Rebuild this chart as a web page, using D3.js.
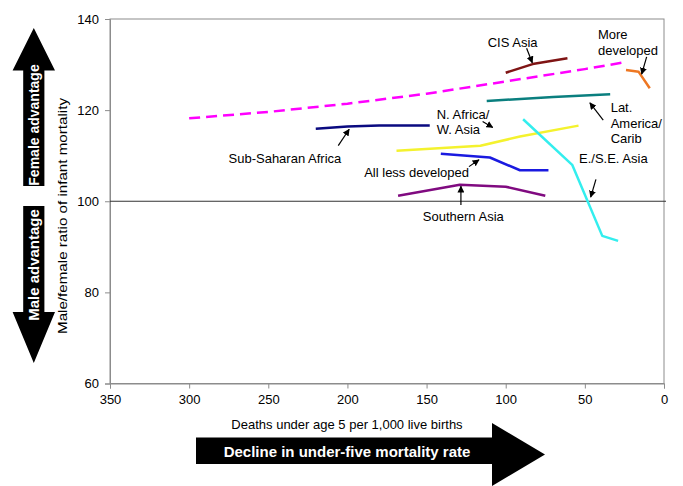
<!DOCTYPE html>
<html>
<head>
<meta charset="utf-8">
<script src="https://cdn.jsdelivr.net/npm/d3@7"></script>
<style>
  html, body { margin: 0; padding: 0; background: #fff; }
  svg { display: block; font-family: "Liberation Sans", Arial, sans-serif; }
</style>
</head>
<body>
<svg id="chart" width="683" height="486"></svg>
<script>
// ---------------- data ----------------
const xTicks = [350, 300, 250, 200, 150, 100, 50, 0];
const yTicks = [60, 80, 100, 120, 140];
const xDomain = [350, 0];
const yDomain = [60, 140];
const referenceValue = 100;

const seriesNames = ["More developed", "More developed (recent)", "CIS Asia", "Lat. America/Carib",
  "Sub-Saharan Africa", "N. Africa/W. Asia", "All less developed", "Southern Asia", "E./S.E. Asia"];

const moreDevX = [300, 250, 200, 150, 100, 50, 25];
const moreDevY = [118.2, 119.6, 121.4, 123.6, 126.3, 129.0, 130.5];
const moreDevRecentX = [24, 16, 9];
const moreDevRecentY = [128.8, 128.4, 124.8];
const cisAsiaX = [100, 83, 61];
const cisAsiaY = [128.2, 130.1, 131.4];
const latAmX = [112, 70, 34];
const latAmY = [122.0, 122.9, 123.5];
const ssAfricaX = [220, 200, 180, 148];
const ssAfricaY = [115.9, 116.4, 116.6, 116.6];
const naWaX = [169, 116, 91, 54];
const naWaY = [111.1, 112.2, 114.2, 116.6];
const lessDevX = [141, 110, 91, 73];
const lessDevY = [110.4, 109.6, 106.8, 106.8];
const sAsiaX = [168, 129, 100, 75];
const sAsiaY = [101.2, 103.6, 103.2, 101.2];
const eseAsiaX = [89, 58, 39, 29];
const eseAsiaY = [118.0, 108.0, 92.4, 91.3];

const seriesX = [moreDevX, moreDevRecentX, cisAsiaX, latAmX, ssAfricaX, naWaX, lessDevX, sAsiaX, eseAsiaX];
const seriesY = [moreDevY, moreDevRecentY, cisAsiaY, latAmY, ssAfricaY, naWaY, lessDevY, sAsiaY, eseAsiaY];
const seriesColors = ["#ff00ff", "#ee7722", "#7f1414", "#0a7f7f", "#0a0a80", "#f4f22e", "#1a1ae0", "#800a80", "#33eeee"];
const seriesDash = ["11,6", null, null, null, null, null, null, null, null];

// annotation labels (in data coordinates)
const labelLines = [["CIS Asia"], ["More", "developed"], ["Lat.", "America/", "Carib"], ["N. Africa/", "W. Asia"],
  ["E./S.E. Asia"], ["All less developed"], ["Southern Asia"], ["Sub-Saharan Africa"]];
const labelX = [95.6, 41.7, 33.7, 143.6, 53.7, 123.2, 126.8, 239.5];
const labelY = [134.8, 136.5, 120.6, 119.1, 109.3, 106.4, 96.6, 109.4];
const labelAnchor = ["middle", "start", "start", "start", "start", "end", "middle", "middle"];
const arrowX1 = [86.8, 10.96, 38.4, 114.6, 43.0, 123.2, 128.3, 205.8];
const arrowY1 = [133.6, 131.7, 117.8, 117.5, 104.8, 107.6, 99.2, 112.2];
const arrowX2 = [83.2, 14.1, 46.8, 108.2, 46.3, 116.9, 128.3, 198.9];
const arrowY2 = [130.4, 127.9, 121.6, 116.2, 100.9, 109.1, 103.3, 115.8];

const yTitle = "Male/female ratio of infant mortality";
const xTitle = "Deaths under age 5 per 1,000 live births";
const femaleText = "Female advantage";
const maleText = "Male advantage";
const declineText = "Decline in under-five mortality rate";

// ---------------- drawing ----------------
const svg = d3.select("#chart");
const plot = { left: 110, right: 664, top: 19, bottom: 383.5 };

const x = d3.scaleLinear().domain(xDomain).range([plot.left, plot.right]);
const y = d3.scaleLinear().domain(yDomain).range([plot.bottom, plot.top]);

svg.append("defs").append("marker")
  .attr("id", "ah").attr("viewBox", "0 0 10 10").attr("refX", 9).attr("refY", 5)
  .attr("markerWidth", 7).attr("markerHeight", 7).attr("orient", "auto")
  .attr("markerUnits", "userSpaceOnUse")
  .append("path").attr("d", "M0,0 L10,5 L0,10 Z").attr("fill", "#000");

// frame
svg.append("rect")
  .attr("x", plot.left).attr("y", plot.top)
  .attr("width", plot.right - plot.left).attr("height", plot.bottom - plot.top)
  .attr("fill", "none").attr("stroke", "#8c8c8c").attr("stroke-width", 1);

// axes
const yAxis = svg.append("g").attr("transform", `translate(${plot.left},0)`)
  .call(d3.axisLeft(y).tickValues(yTicks).tickSize(5).tickPadding(6));
const xAxis = svg.append("g").attr("transform", `translate(0,${plot.bottom})`)
  .call(d3.axisBottom(x).tickValues(xTicks).tickSize(5).tickPadding(6));
[yAxis, xAxis].forEach(a => {
  a.select(".domain").attr("stroke", "#8c8c8c");
  a.selectAll(".tick line").attr("stroke", "#8c8c8c");
  a.selectAll(".tick text").attr("fill", "#000").style("font-size", "13px")
    .style("font-family", "'Liberation Sans', Arial, sans-serif");
});

// reference line
svg.append("line")
  .attr("x1", plot.left).attr("x2", plot.right + 2)
  .attr("y1", y(referenceValue)).attr("y2", y(referenceValue))
  .attr("stroke", "#333").attr("stroke-width", 1.2);

// series
const line = d3.line().x(d => x(d[0])).y(d => y(d[1]));
seriesNames.forEach((name, i) => {
  const pts = seriesX[i].map((v, j) => [v, seriesY[i][j]]);
  svg.append("path").datum(pts)
    .attr("d", line)
    .attr("fill", "none")
    .attr("stroke", seriesColors[i])
    .attr("stroke-width", 2.5)
    .attr("stroke-dasharray", seriesDash[i])
    .attr("stroke-linejoin", "round");
});

// annotations
labelLines.forEach((lines, i) => {
  const t = svg.append("text")
    .attr("x", x(labelX[i])).attr("y", y(labelY[i]))
    .attr("text-anchor", labelAnchor[i])
    .style("font-size", "13px").attr("fill", "#000");
  lines.forEach((s, j) => {
    t.append("tspan").attr("x", x(labelX[i])).attr("dy", j === 0 ? "0.35em" : "1.2em").text(s);
  });
  svg.append("line")
    .attr("x1", x(arrowX1[i])).attr("y1", y(arrowY1[i]))
    .attr("x2", x(arrowX2[i])).attr("y2", y(arrowY2[i]))
    .attr("stroke", "#000").attr("stroke-width", 1.2)
    .attr("marker-end", "url(#ah)");
});

// axis titles
svg.append("text")
  .attr("transform", "translate(62,216) rotate(-90)")
  .attr("text-anchor", "middle").attr("dy", "0.35em")
  .attr("textLength", 236).attr("lengthAdjust", "spacingAndGlyphs")
  .style("font-size", "13.5px").text(yTitle);
svg.append("text")
  .attr("x", 347).attr("y", 424).attr("dy", "0.35em")
  .attr("text-anchor", "middle")
  .style("font-size", "13px").text(xTitle);

// big arrows
svg.append("path")
  .attr("d", "M33.8,28 L55,70.5 L44.4,70.5 L44.4,186 L23.2,186 L23.2,70.5 L12.6,70.5 Z")
  .attr("fill", "#000");
svg.append("path")
  .attr("d", "M23.2,206 L44.4,206 L44.4,312 L55,312 L33.8,363 L12.6,312 L23.2,312 Z")
  .attr("fill", "#000");
svg.append("text")
  .attr("transform", "translate(34,125) rotate(-90)")
  .attr("text-anchor", "middle").attr("dy", "0.35em")
  .attr("fill", "#fff").style("font-size", "14px").style("font-weight", "bold")
  .text(femaleText);
svg.append("text")
  .attr("transform", "translate(34,265) rotate(-90)")
  .attr("text-anchor", "middle").attr("dy", "0.35em")
  .attr("fill", "#fff").style("font-size", "15px").style("font-weight", "bold")
  .text(maleText);

svg.append("path")
  .attr("d", "M196,437.5 L492,437.5 L492,423 L545,454.5 L492,486 L492,464 L196,464 Z")
  .attr("fill", "#000");
svg.append("text")
  .attr("x", 347).attr("y", 451.5).attr("dy", "0.35em")
  .attr("text-anchor", "middle")
  .attr("fill", "#fff").style("font-size", "15px").style("font-weight", "bold")
  .text(declineText);
</script>
</body>
</html>
